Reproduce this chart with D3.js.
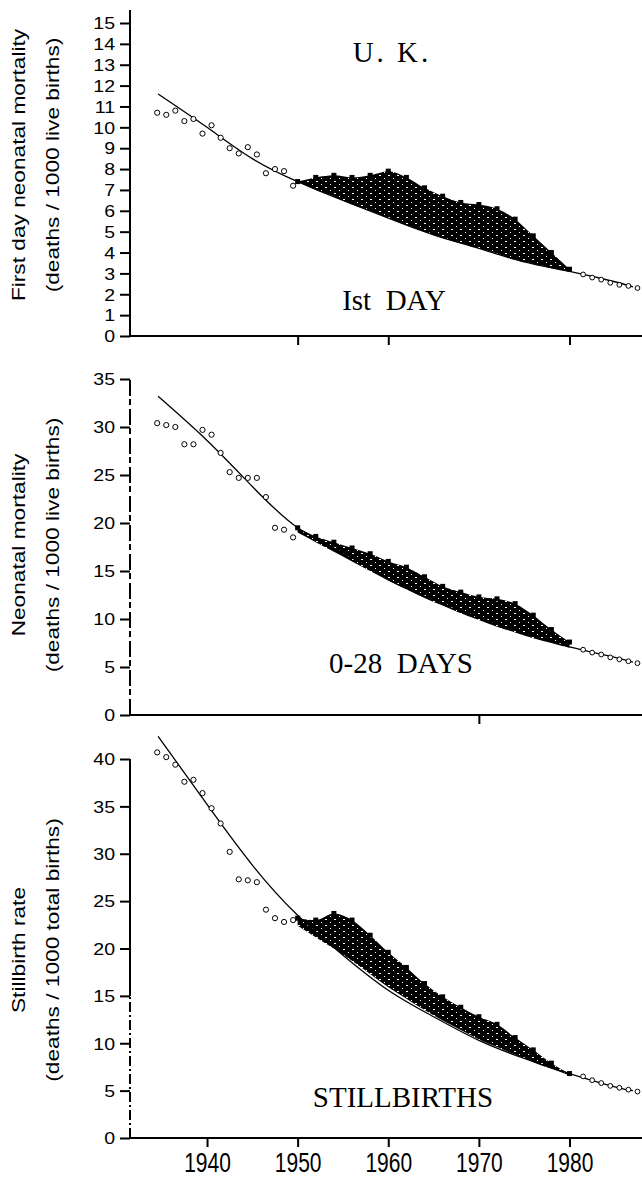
<!DOCTYPE html>
<html>
<head>
<meta charset="utf-8">
<script src="https://cdn.jsdelivr.net/npm/d3@7"></script>
<style>
  html, body { margin: 0; padding: 0; background: #fff; }
  svg { display: block; }
  .tick line { stroke: #000; stroke-width: 2; }
  .domain { display: none; }
</style>
</head>
<body>
<svg id="chart" width="642" height="1179"></svg>
<script>
// years shared by the panels (annual values, plotted at mid-year)
const earlyYears = [1934, 1935, 1936, 1937, 1938, 1939, 1940, 1941, 1942, 1943, 1944, 1945, 1946, 1947, 1948, 1949];
const lateYears = [1981, 1982, 1983, 1984, 1985, 1986, 1987];
const fitYears = [1934.6, 1940, 1945, 1950, 1955, 1960, 1965, 1970, 1975, 1980, 1985, 1987];
const bandYears = [1950, 1952, 1954, 1956, 1958, 1960, 1962, 1964, 1966, 1968, 1970, 1972, 1974, 1976, 1978, 1980];
const decadeTicks = [1940, 1950, 1960, 1970, 1980];

// first day
const dayEarly = [10.7, 10.6, 10.8, 10.3, 10.4, 9.7, 10.1, 9.5, 9.0, 8.75, 9.05, 8.7, 7.8, 8.0, 7.9, 7.2];
const dayLate = [2.95, 2.8, 2.7, 2.55, 2.45, 2.4, 2.3];
const dayFit = [11.6, 10.0, 8.5, 7.4, 6.5, 5.65, 4.85, 4.2, 3.55, 3.1, 2.6, 2.35];
const dayBandHigh = [7.4, 7.6, 7.7, 7.6, 7.7, 7.9, 7.6, 7.1, 6.7, 6.4, 6.3, 6.1, 5.6, 4.8, 4.0, 3.2];
const dayBandLow = [7.4, 7.0, 6.7, 6.3, 6.0, 5.65, 5.3, 5.0, 4.7, 4.45, 4.2, 3.95, 3.65, 3.45, 3.25, 3.1];

// 0-28 days
const neoEarly = [30.4, 30.2, 30.0, 28.2, 28.2, 29.7, 29.2, 27.3, 25.3, 24.7, 24.7, 24.7, 22.7, 19.5, 19.3, 18.5];
const neoLate = [6.8, 6.5, 6.3, 6.0, 5.8, 5.6, 5.4];
const neoFit = [33.2, 28.6, 23.8, 19.5, 16.9, 14.1, 12.0, 10.2, 8.5, 7.1, 6.0, 5.5];
const neoBandHigh = [19.5, 18.6, 18.0, 17.4, 16.8, 16.0, 15.4, 14.4, 13.4, 12.8, 12.3, 12.1, 11.6, 10.4, 8.9, 7.6];
const neoBandLow = [19.0, 18.0, 17.0, 16.0, 15.0, 14.0, 13.1, 12.2, 11.4, 10.6, 9.9, 9.2, 8.6, 8.0, 7.5, 7.0];

// stillbirths
const stillEarly = [40.7, 40.2, 39.4, 37.6, 37.8, 36.4, 34.8, 33.2, 30.2, 27.3, 27.2, 27.0, 24.1, 23.2, 22.8, 23.0];
const stillLate = [6.5, 6.1, 5.8, 5.5, 5.3, 5.1, 4.9];
const stillFit = [42.4, 35.2, 28.8, 23.5, 19.3, 15.6, 12.8, 10.3, 8.4, 6.8, 5.4, 5.0];
const stillBandHigh = [23.2, 23.0, 23.7, 23.0, 21.4, 19.6, 18.0, 16.3, 14.9, 13.8, 12.8, 12.0, 10.6, 9.3, 7.9, 6.8];
const stillBandLow = [22.4, 21.2, 20.0, 18.7, 17.3, 15.9, 14.7, 13.5, 12.4, 11.4, 10.4, 9.6, 8.8, 8.0, 7.3, 6.6];

const panels = [
  {
    early: dayEarly, late: dayLate, fit: dayFit, high: dayBandHigh, low: dayBandLow,
    max: 15, step: 1, y0: 336, yTop: 23, axisTop: 10, xTicks: [1950, 1960, 1980],
    title: ["First day neonatal mortality", "(deaths / 1000 live births)"], titleY: 165,
    labels: [{ text: "U. K.", x: 392, y: 62, spacing: 3 }, { text: "Ist  DAY", x: 394, y: 310 }]
  },
  {
    early: neoEarly, late: neoLate, fit: neoFit, high: neoBandHigh, low: neoBandLow,
    max: 35, step: 5, y0: 715, yTop: 379, axisTop: 379, xTicks: [1970], dash: "16,4,6,3",
    title: ["Neonatal mortality", "(deaths / 1000 live births)"], titleY: 545,
    labels: [{ text: "0-28  DAYS", x: 401, y: 673 }]
  },
  {
    early: stillEarly, late: stillLate, fit: stillFit, high: stillBandHigh, low: stillBandLow,
    max: 40, step: 5, y0: 1138, yTop: 759, axisTop: 759, xTicks: decadeTicks, tickLabels: true,
    dashBelow: 15, dash: "10,3,2,3",
    title: ["Stillbirth rate", "(deaths / 1000 total births)"], titleY: 950,
    labels: [{ text: "STILLBIRTHS", x: 403, y: 1107 }]
  }
];

const svg = d3.select("#chart");
const x = d3.scaleLinear().domain([1931.5, 1988]).range([130, 642]);
const mid = (yr) => x(yr + 0.5);

const defs = svg.append("defs");
const pat = defs.append("pattern")
  .attr("id", "speck").attr("width", 9).attr("height", 6)
  .attr("patternUnits", "userSpaceOnUse");
pat.append("rect").attr("width", 9).attr("height", 6).attr("fill", "#000");
pat.append("rect").attr("x", 1).attr("y", 1).attr("width", 2).attr("height", 1).attr("fill", "#fff");
pat.append("rect").attr("x", 6).attr("y", 4).attr("width", 1).attr("height", 1).attr("fill", "#fff");

panels.forEach((p) => {
  const y = d3.scaleLinear().domain([0, p.max]).range([p.y0, p.yTop]);
  const g = svg.append("g");

  // y axis line (partly broken in the scan)
  if (p.dashBelow) {
    g.append("line")
      .attr("x1", 130).attr("x2", 130)
      .attr("y1", y(p.dashBelow)).attr("y2", p.axisTop)
      .attr("stroke", "#000").attr("stroke-width", 2);
    g.append("line")
      .attr("x1", 130).attr("x2", 130)
      .attr("y1", p.y0).attr("y2", y(p.dashBelow))
      .attr("stroke", "#000").attr("stroke-width", 2)
      .attr("stroke-dasharray", p.dash);
  } else {
    g.append("line")
      .attr("x1", 130).attr("x2", 130)
      .attr("y1", p.y0).attr("y2", p.axisTop)
      .attr("stroke", "#000").attr("stroke-width", 2)
      .attr("stroke-dasharray", p.dash || null);
  }
  // x axis line
  g.append("line")
    .attr("x1", 130).attr("x2", 642)
    .attr("y1", p.y0).attr("y2", p.y0)
    .attr("stroke", "#000").attr("stroke-width", 2);

  const yAxis = g.append("g")
    .attr("transform", "translate(130,0)")
    .call(d3.axisLeft(y).tickValues(d3.range(0, p.max + 0.1, p.step)).tickSize(10).tickFormat(d3.format("d")));
  yAxis.selectAll("text")
    .attr("x", 0).attr("dy", "0.36em")
    .attr("transform", "translate(-15,0) scale(1.22,1)")
    .style("font-family", "'Liberation Sans', Arial, sans-serif")
    .style("font-size", "16px")
    .attr("fill", "#000");

  const xAxis = g.append("g")
    .attr("transform", `translate(0,${p.y0})`)
    .call(d3.axisBottom(x).tickValues(p.xTicks).tickSize(9).tickFormat(p.tickLabels ? d3.format("d") : ""));
  xAxis.selectAll("text")
    .attr("y", 0).attr("dy", 0)
    .attr("transform", "translate(0,34) scale(1,1.3)")
    .style("font-family", "'Liberation Sans', Arial, sans-serif")
    .style("font-size", "21px")
    .attr("fill", "#000");

  // band of later series
  const area = d3.area()
    .x((d, i) => x(bandYears[i]))
    .y0((d, i) => y(p.low[i]))
    .y1((d) => y(d))
    .curve(d3.curveMonotoneX);
  g.append("path").datum(p.high).attr("d", area).attr("fill", "url(#speck)");
  g.selectAll(".edge")
    .data(p.high)
    .join("rect")
    .attr("x", (d, i) => x(bandYears[i]) - 2.5)
    .attr("y", (d) => y(d) - 2.5)
    .attr("width", 5).attr("height", 5)
    .attr("fill", "#000");

  // fitted curve
  const line = d3.line()
    .x((d, i) => x(fitYears[i]))
    .y((d) => y(d))
    .curve(d3.curveNatural);
  g.append("path").datum(p.fit).attr("d", line)
    .attr("fill", "none").attr("stroke", "#000").attr("stroke-width", 1.3);

  // open circles
  g.selectAll(".early")
    .data(p.early)
    .join("circle")
    .attr("cx", (d, i) => mid(earlyYears[i]))
    .attr("cy", (d) => y(d))
    .attr("r", 2.6)
    .attr("fill", "#fff").attr("stroke", "#000").attr("stroke-width", 1);
  g.selectAll(".late")
    .data(p.late)
    .join("circle")
    .attr("cx", (d, i) => mid(lateYears[i]))
    .attr("cy", (d) => y(d))
    .attr("r", 2.4)
    .attr("fill", "#fff").attr("stroke", "#000").attr("stroke-width", 1);

  // axis titles
  p.title.forEach((t, i) => {
    g.append("text")
      .attr("transform", `translate(${i === 0 ? 25 : 59},${p.titleY}) rotate(-90) scale(1.26,1)`)
      .attr("text-anchor", "middle")
      .style("font-family", "'Liberation Sans', Arial, sans-serif")
      .style("font-size", "18px")
      .attr("fill", "#000")
      .text(t);
  });

  // panel labels
  p.labels.forEach((l) => {
    g.append("text")
      .attr("x", l.x).attr("y", l.y)
      .attr("text-anchor", "middle")
      .style("font-family", "'Liberation Serif', 'Times New Roman', serif")
      .style("font-size", "29px")
      .style("letter-spacing", l.spacing ? `${l.spacing}px` : null)
      .style("white-space", "pre")
      .attr("fill", "#000")
      .text(l.text);
  });
});
</script>
</body>
</html>
